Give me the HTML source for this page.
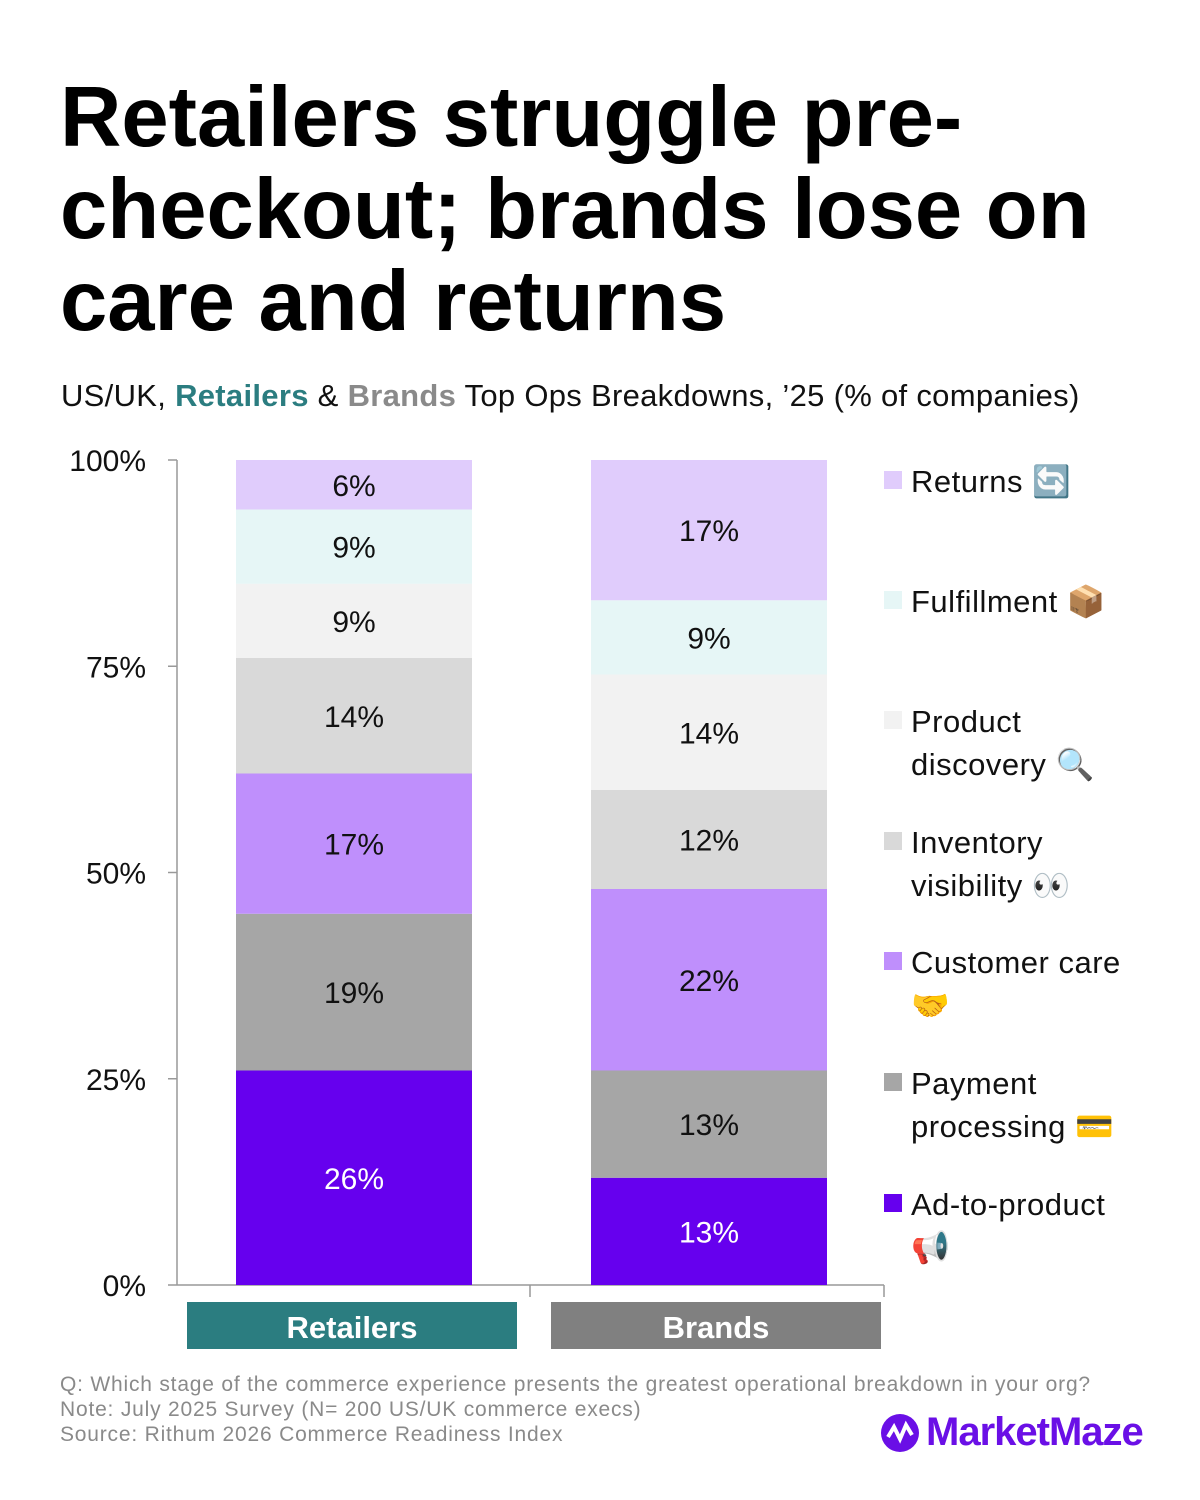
<!DOCTYPE html>
<html><head><meta charset="utf-8"><style>
body{margin:0;background:#fff;font-family:"Liberation Sans","Noto Sans CJK SC",sans-serif;}
#wrap{position:relative;width:1200px;height:1500px;overflow:hidden;}
h1{position:absolute;left:60px;top:72px;margin:0;font-size:85px;line-height:92px;font-weight:bold;letter-spacing:0px;color:#000;width:1130px;white-space:nowrap;}
.sub{position:absolute;left:61px;top:378px;font-size:31px;color:#111;letter-spacing:0.3px;}
.foot{position:absolute;left:60px;top:1372px;font-size:21px;line-height:25px;color:#8a8a8a;letter-spacing:0.8px;}
.logo{position:absolute;left:880px;top:1410px;font-size:40px;color:#6a0fe6;font-weight:bold;letter-spacing:-1px;display:flex;align-items:center;gap:6px;}
</style></head><body><div id="wrap">
<h1>Retailers struggle pre-<br>checkout; brands lose on<br>care and returns</h1>
<div class="sub">US/UK, <b style="color:#2b7d80">Retailers</b> &amp; <b style="color:#8a8a8a">Brands</b> Top Ops Breakdowns, ’25 (% of companies)</div>
<svg id="chart" width="1200" height="1500" style="position:absolute;left:0;top:0"></svg>
<div class="foot">Q: Which stage of the commerce experience presents the greatest operational breakdown in your org?<br>Note: July 2025 Survey (N= 200 US/UK commerce execs)<br>Source: Rithum 2026 Commerce Readiness Index</div>
<div class="logo"><svg width="40" height="40" viewBox="0 0 40 40"><circle cx="20" cy="20" r="19" fill="#6a0fe6"/><path d="M8 24 L14 14 L20 26 L26 12 L32 22" stroke="#fff" stroke-width="4" fill="none"/></svg><span>MarketMaze</span></div>
<script>
const categories=["Retailers","Brands"];
const series=["Ad-to-product","Payment processing","Customer care","Inventory visibility","Product discovery","Fulfillment","Returns"];
const retailers=[26,19,17,14,9,9,6];
const brands=[13,13,22,12,14,9,17];
const yTicks=[0,25,50,75,100];
const colors=["#6600ee","#a6a6a6","#bf8ffc","#d9d9d9","#f2f2f2","#e6f6f6","#e0ccfc"];
const legendLabels=[["Ad-to-product","📢"],["Payment","processing 💳"],["Customer care","🤝"],["Inventory","visibility 👀"],["Product","discovery 🔍"],["Fulfillment 📦"],["Returns 🔄"]];
const catColors=["#2b7d80","#808080"];
const NS="http://www.w3.org/2000/svg";
const svg=document.getElementById('chart');
function y(v){return 1285-v*8.25;}
function x(i){return 236+i*355;}
const bw=236;
function mk(t,a,p){const e=document.createElementNS(NS,t);for(const k in a)e.setAttribute(k,a[k]);(p||svg).appendChild(e);return e;}
yTicks.forEach(t=>{
 const l=mk('line',{x1:168,x2:177,y1:y(t),y2:y(t),stroke:'#999','stroke-width':1.5});
 
 
 const tx=mk('text',{x:146,y:y(t)+11,'text-anchor':'end','font-size':30,fill:'#111','font-family':'Liberation Sans'});
 tx.textContent=t+'%';
 
 
});
const ax=mk('line',{x1:177,x2:177,y1:y(100),y2:y(0),stroke:'#999','stroke-width':1.5});


const xa=mk('line',{x1:177,x2:884,y1:y(0),y2:y(0),stroke:'#999','stroke-width':1.5});


[530,884].forEach(px=>{const l=mk('line',{x1:px,x2:px,y1:y(0),y2:y(0)+12,stroke:'#999','stroke-width':1.5});
 
 });
[retailers,brands].forEach((vals,ci)=>{
 let acc=0;
 vals.forEach((v,si)=>{
  const r=mk('rect',{x:x(ci),y:y(acc+v),width:bw,height:v*8.25,fill:colors[si]});
  
  
  const t=mk('text',{x:x(ci)+bw/2,y:y(acc+v/2)+11,'text-anchor':'middle','font-size':30,fill:si==0?'#fff':'#111','font-family':'Liberation Sans'});
  t.textContent=v+'%';
  
  
  acc+=v;
 });
 const cx=187+ci*364;
 const cr=mk('rect',{x:cx,y:1302,width:330,height:47,fill:catColors[ci]});
 
 
 const ct=mk('text',{x:cx+165,y:1338,'text-anchor':'middle','font-size':31,'font-weight':'bold',fill:'#fff','font-family':'Liberation Sans'});
 ct.textContent=categories[ci];
 
 
});
const legY=[1204,1083,962,842,721,601,481];
legendLabels.forEach((lines,i)=>{
 const g=mk('g',{});
 
 
 mk('rect',{x:884,y:legY[i]-10,width:18,height:18,fill:colors[i]},g);
 lines.forEach((s,j)=>{const t=mk('text',{x:911,y:legY[i]+11+j*43,'font-size':31,'letter-spacing':0.5,fill:'#111','font-family':'Liberation Sans, Noto Sans CJK SC, sans-serif'},g);t.textContent=s;});
});
</script>
</div></body></html>
